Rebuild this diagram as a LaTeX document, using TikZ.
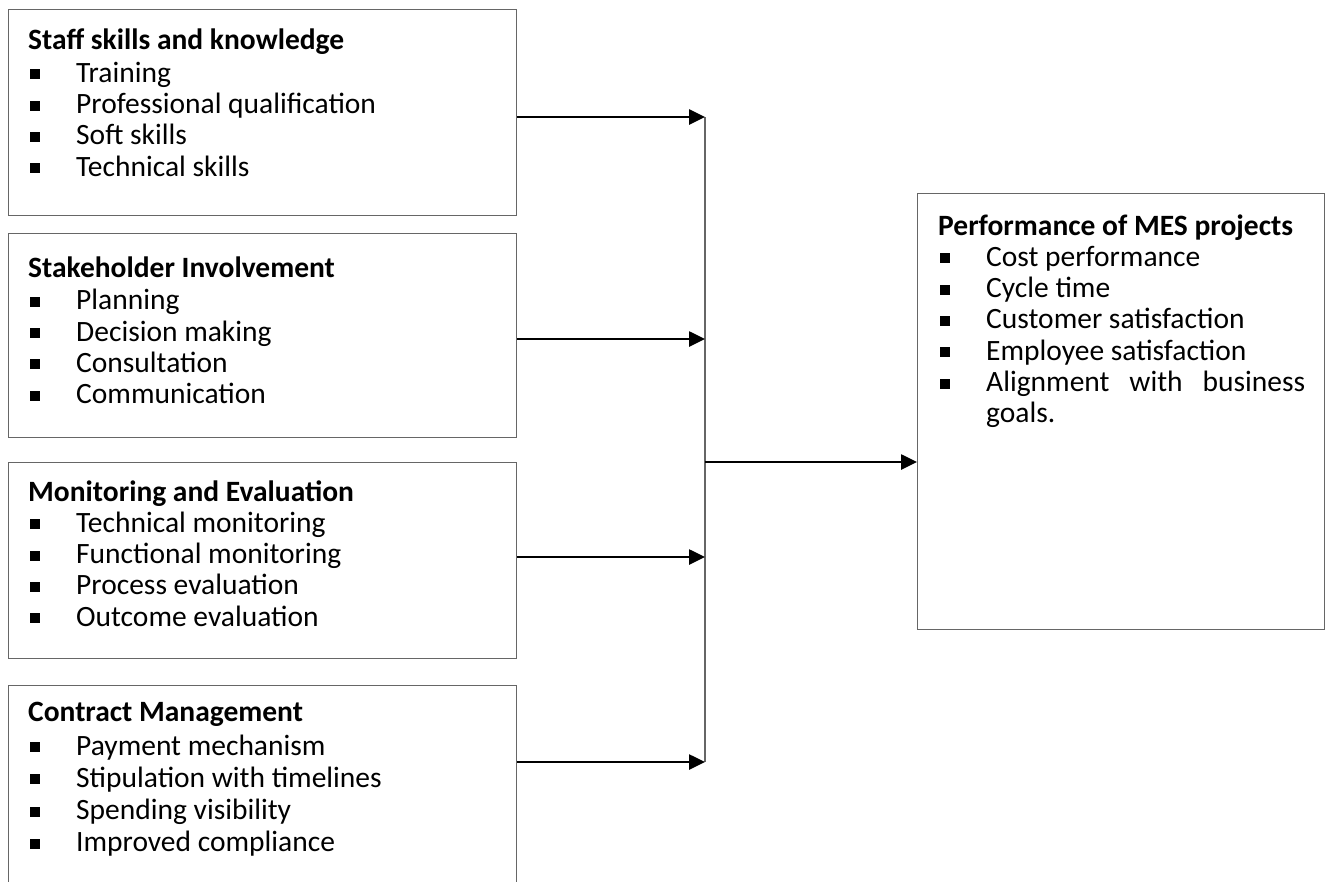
\documentclass[tikz,border=0pt]{standalone}
\usepackage{fontspec}
\setmainfont{Carlito}
\usetikzlibrary{arrows.meta}
\newcommand{\bl}[1]{\hbox{\makebox[48pt][l]{\hspace{2pt}\rule[3pt]{10pt}{10pt}}#1}}
\newcommand{\ttl}[2]{\hbox{\bfseries #2}\vskip #1pt}
\tikzset{
  box/.style={draw=black!60, line width=1.2pt, rectangle, inner sep=0pt, anchor=north west},
  txt/.style={anchor=base west, inner sep=0pt, font=\fontsize{29.5}{31.3}\selectfont},
  arr/.style={line width=2.6pt, black, -{Triangle[length=16pt,width=15pt]}},
  bus/.style={line width=1.2pt, black!60},
}
\begin{document}
\begin{tikzpicture}[x=1pt,y=-1pt]
\useasboundingbox (0,0) rectangle (1325,881);
% boxes
\node[box, minimum width=508pt, minimum height=206pt] (b1) at (8,9) {};
\node[box, minimum width=508pt, minimum height=204pt] (b2) at (8,233) {};
\node[box, minimum width=508pt, minimum height=196pt] (b3) at (8,462) {};
\node[box, minimum width=508pt, minimum height=230pt] (b4) at (8,685) {};
\node[box, minimum width=407pt, minimum height=436pt] (out) at (917,193) {};
% texts
\node[txt] (t1) at (28,49) {\vtop{\ttl{2}{Staff skills and knowledge}\bl{Training}\bl{Professional qualification}\bl{Soft skills}\bl{Technical skills}}};
\node[txt] (t2) at (28,277) {\vtop{\ttl{1.5}{Stakeholder Involvement}\bl{Planning}\bl{Decision making}\bl{Consultation}\bl{Communication}}};
\node[txt] (t3) at (28,501) {\vtop{\ttl{0}{Monitoring and Evaluation}\bl{Technical monitoring}\bl{Functional monitoring}\bl{Process evaluation}\bl{Outcome evaluation}}};
\node[txt, font=\fontsize{29.5}{32.2}\selectfont] (t4) at (28,721) {\vtop{\ttl{2}{Contract Management}\bl{Payment mechanism}\bl{Stipulation with timelines}\bl{Spending visibility}\bl{Improved compliance}}};
\node[txt] (t5) at (938,235) {\vtop{\ttl{0}{Performance of MES projects}\bl{Cost performance}\bl{Cycle time}\bl{Customer satisfaction}\bl{Employee satisfaction}\bl{\hbox to 319pt{Alignment\hfill with\hfill business}}\hbox{\hspace{48pt}goals.}}};
% bus coordinates
\coordinate (j1) at (705,117);
\coordinate (j2) at (705,339);
\coordinate (j3) at (705,557);
\coordinate (j4) at (705,762);
\coordinate (jm) at (705,462);
\draw[bus] (j1) -- (j4);
\draw[arr] (b1.east |- j1) -- (j1);
\draw[arr] (b2.east |- j2) -- (j2);
\draw[arr] (b3.east |- j3) -- (j3);
\draw[arr] (b4.east |- j4) -- (j4);
\draw[arr] (jm) -- (out.west |- jm);
\end{tikzpicture}
\end{document}
